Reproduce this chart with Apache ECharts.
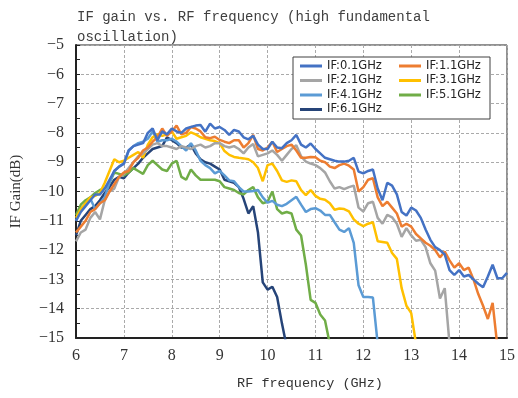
<!DOCTYPE html>
<html>
<head>
<meta charset="utf-8">
<script src="https://cdn.jsdelivr.net/npm/echarts@6/dist/echarts.min.js"></script>
<style>
  html, body { margin: 0; padding: 0; background: #fff; }
  #main { width: 518px; height: 398px; }
</style>
</head>
<body>
<div id="main"></div>
<script>
// RF frequency grid (GHz)
var freq = [6.0,6.1,6.2,6.3,6.4,6.5,6.6,6.7,6.8,6.9,
  7.0,7.1,7.2,7.3,7.4,7.5,7.6,7.7,7.8,7.9,
  8.0,8.1,8.2,8.3,8.4,8.5,8.6,8.7,8.8,8.9,
  9.0,9.1,9.2,9.3,9.4,9.5,9.6,9.7,9.8,9.9,
  10.0,10.1,10.2,10.3,10.4,10.5,10.6,10.7,10.8,10.9,
  11.0,11.1,11.2,11.3,11.4,11.5,11.6,11.7,11.8,11.9,
  12.0,12.1,12.2,12.3,12.4,12.5,12.6,12.7,12.8,12.9,
  13.0,13.1,13.2,13.3,13.4,13.5,13.6,13.7,13.8,13.9,
  14.0,14.1,14.2,14.3,14.4,14.5,14.6,14.7,14.8,14.9,15.0];

var names = ['IF:0.1GHz', 'IF:1.1GHz', 'IF:2.1GHz', 'IF:3.1GHz', 'IF:4.1GHz', 'IF:5.1GHz', 'IF:6.1GHz'];
var colors = ['#4472C4', '#ED7D31', '#A5A5A5', '#FFC000', '#5B9BD5', '#70AD47', '#264478'];

var if01 = [-11.0,-10.7,-10.5,-10.3,-10.1,-10.1,-9.9,-9.6,-9.3,-9.15,
  -9.05,-8.6,-8.45,-8.4,-8.35,-8.0,-7.85,-8.25,-7.95,-8.05,
  -7.85,-7.95,-8.0,-7.85,-7.8,-7.75,-7.73,-7.96,-7.68,-7.85,
  -7.8,-7.9,-8.07,-7.9,-7.95,-8.15,-8.22,-8.1,-8.4,-8.55,
  -8.55,-8.3,-8.5,-8.52,-8.35,-8.25,-8.07,-8.4,-8.5,-8.36,
  -8.55,-8.7,-8.85,-8.9,-8.95,-8.98,-8.98,-8.95,-8.85,-9.32,
  -9.38,-9.3,-9.25,-9.9,-10.3,-9.7,-9.8,-10.1,-10.7,-10.82,
  -10.55,-10.65,-10.9,-11.3,-11.65,-11.9,-12.0,-12.15,-12.68,-12.85,
  -12.68,-12.9,-12.85,-13.0,-13.15,-13.27,-12.9,-12.5,-12.96,-12.96,-12.78];

var if11 = [-11.4,-11.2,-11.0,-10.7,-10.6,-10.4,-10.3,-10.0,-9.75,-9.5,
  -9.35,-9.3,-9.0,-8.85,-8.6,-8.5,-8.3,-8.15,-7.85,-8.1,
  -7.95,-7.75,-8.05,-8.0,-7.8,-7.85,-7.95,-8.15,-8.18,-8.13,
  -8.24,-8.3,-8.35,-8.25,-8.25,-8.5,-8.35,-8.07,-8.55,-8.6,
  -8.5,-8.3,-8.65,-8.55,-8.45,-8.4,-8.6,-8.85,-8.85,-8.82,
  -8.83,-8.95,-9.0,-9.15,-9.2,-9.1,-9.05,-9.12,-9.25,-10.0,
  -9.85,-9.6,-9.55,-10.2,-10.5,-10.35,-10.55,-10.75,-11.2,-11.1,
  -11.2,-11.45,-11.6,-11.75,-11.85,-12.0,-12.25,-12.05,-12.35,-12.6,
  -12.45,-12.68,-12.6,-13.0,-13.5,-13.9,-14.35,-13.8,-15.3];

var if21 = [-11.7,-11.4,-11.3,-10.9,-10.7,-10.95,-10.3,-10.0,-9.9,-9.5,
  -9.4,-9.2,-9.0,-8.8,-8.7,-8.55,-8.4,-8.35,-8.45,-8.45,
  -8.5,-8.55,-8.45,-8.5,-8.55,-8.45,-8.4,-8.5,-8.45,-8.35,
  -8.35,-8.45,-8.5,-8.45,-8.55,-8.7,-8.5,-8.38,-8.8,-8.75,
  -8.7,-8.6,-8.75,-8.95,-8.75,-8.55,-8.42,-8.8,-8.98,-9.05,
  -9.1,-9.2,-9.35,-9.65,-9.9,-9.85,-9.92,-9.85,-9.8,-10.55,
  -10.68,-10.4,-10.35,-10.9,-11.1,-10.8,-10.88,-11.1,-11.55,-11.25,
  -11.5,-11.68,-11.65,-11.9,-12.45,-12.7,-13.65,-13.3,-15.2];

var if31 = [-10.9,-10.6,-10.4,-10.2,-10.15,-10.05,-9.7,-9.3,-8.9,-9.0,
  -8.95,-8.85,-8.75,-8.65,-8.85,-8.4,-8.15,-8.05,-8.1,-8.05,
  -7.95,-8.2,-8.15,-8.1,-7.98,-8.05,-8.15,-8.2,-8.25,-8.28,
  -8.35,-8.62,-8.75,-8.82,-8.85,-8.87,-8.9,-9.0,-9.2,-9.65,
  -9.1,-9.05,-9.3,-9.62,-9.67,-9.62,-9.65,-9.95,-10.12,-9.95,
  -10.15,-10.25,-10.28,-10.4,-10.62,-10.58,-10.6,-10.68,-10.95,-11.1,
  -11.18,-11.1,-11.05,-11.7,-11.72,-11.75,-12.1,-12.3,-13.3,-13.9,
  -14.15,-15.2];

var if41 = [-11.0,-10.6,-10.45,-10.25,-10.6,-10.4,-10.2,-9.7,-9.3,-9.15,
  -9.05,-8.6,-8.45,-8.35,-8.3,-8.2,-7.95,-8.3,-8.25,-8.25,
  -8.2,-8.3,-8.45,-8.6,-8.35,-8.6,-8.95,-9.1,-9.2,-9.38,
  -9.3,-9.45,-9.62,-9.65,-9.85,-10.0,-10.0,-9.98,-9.95,-10.2,
  -10.38,-10.32,-10.45,-10.5,-10.42,-10.3,-10.18,-10.45,-10.7,-10.6,
  -10.57,-10.65,-10.8,-10.8,-11.05,-11.3,-11.38,-11.25,-11.75,-13.2,
  -13.6,-13.6,-13.62,-15.2];

var if51 = [-10.8,-10.45,-10.3,-10.2,-10.05,-9.95,-9.9,-9.7,-9.35,-9.4,
  -9.45,-9.35,-9.2,-9.3,-9.4,-9.1,-8.95,-9.1,-9.25,-9.3,
  -9.05,-8.95,-9.5,-9.6,-9.25,-9.45,-9.6,-9.6,-9.6,-9.6,
  -9.65,-9.85,-9.9,-9.95,-10.05,-10.1,-9.95,-9.85,-10.2,-10.4,
  -10.35,-10.0,-10.6,-10.75,-10.7,-10.75,-11.3,-11.5,-12.5,-13.7,
  -13.8,-14.2,-14.4,-15.2];

var if61 = [-11.5,-11.0,-10.8,-10.6,-10.5,-10.3,-10.05,-9.85,-9.6,-9.5,
  -9.55,-9.35,-9.2,-9.05,-8.85,-8.7,-8.55,-8.5,-8.45,-8.15,
  -8.25,-8.35,-8.5,-8.5,-8.4,-8.7,-8.9,-9.0,-9.05,-9.15,
  -9.25,-9.6,-9.65,-9.7,-9.85,-10.25,-10.75,-10.5,-11.4,-13.1,
  -13.35,-13.25,-13.6,-14.5,-15.3];

var yTicks = [-15, -14, -13, -12, -11, -10, -9, -8, -7, -6, -5];
var xTicks = [6, 7, 8, 9, 10, 11, 12, 13, 14, 15];

var seriesValues = [if01, if11, if21, if31, if41, if51, if61];

var chart = echarts.init(document.getElementById('main'), null, { renderer: 'canvas' });

var series = seriesValues.map(function (vals, i) {
  return {
    name: names[i],
    type: 'line',
    showSymbol: false,
    symbol: 'none',
    clip: true,
    z: 10 - i,
    lineStyle: { color: colors[i], width: 2.5 },
    itemStyle: { color: colors[i] },
    data: vals.map(function (v, k) { return [freq[k], v]; })
  };
});

var legendText = { fontFamily: 'DejaVu Sans', fontSize: 11.5, color: '#222', lineHeight: 14, width: 60 };

var option = {
  animation: false,
  backgroundColor: '#fff',
  title: {
    text: 'IF gain vs. RF frequency (high fundamental\noscillation)',
    left: 72,
    top: 2,
    textStyle: { fontFamily: 'Liberation Mono', fontSize: 14, fontWeight: 'normal', color: '#404040', lineHeight: 20 }
  },
  legend: [{
    data: [names[0], names[2], names[4], names[6]],
    orient: 'vertical',
    left: 293,
    top: 57,
    itemGap: 0.5,
    itemWidth: 22,
    itemHeight: 3,
    icon: 'rect',
    padding: [2, 103, 2.5, 7],
    borderColor: '#404040',
    borderWidth: 1,
    backgroundColor: '#fff',
    textStyle: legendText
  }, {
    data: [names[1], names[3], names[5]],
    orient: 'vertical',
    left: 399,
    top: 59,
    itemGap: 0.5,
    itemWidth: 22,
    itemHeight: 3,
    icon: 'rect',
    padding: 0,
    textStyle: legendText
  }],
  grid: { left: 76, right: 7, top: 45, bottom: 60, show: true, borderColor: '#222', borderWidth: 1, backgroundColor: 'transparent' },
  xAxis: {
    type: 'value',
    min: xTicks[0],
    max: xTicks[xTicks.length - 1],
    interval: 1,
    name: 'RF frequency (GHz)',
    nameLocation: 'middle',
    nameGap: 38,
    nameTextStyle: { fontFamily: 'Liberation Mono', fontSize: 13.5, color: '#333', padding: [0, 0, 0, 37] },
    axisLine: { onZero: false, lineStyle: { color: '#222', width: 2 } },
    axisTick: { show: false },
    axisLabel: { fontFamily: 'Liberation Serif', fontSize: 16, color: '#333', margin: 10 },
    splitLine: { show: true, lineStyle: { color: '#aaa', type: [3, 2], width: 1 } }
  },
  yAxis: {
    type: 'value',
    min: yTicks[0],
    max: yTicks[yTicks.length - 1],
    interval: 1,
    name: 'IF Gain(dB)',
    nameLocation: 'middle',
    nameGap: 52,
    nameTextStyle: { fontFamily: 'Liberation Serif', fontSize: 15, color: '#333' },
    axisLine: { onZero: false, lineStyle: { color: '#222', width: 2 } },
    axisTick: { show: true, inside: true, length: 4, lineStyle: { color: '#222' } },
    minorTick: { show: true, splitNumber: 2, length: 4, lineStyle: { color: '#222' } },
    axisLabel: {
      fontFamily: 'Liberation Serif', fontSize: 16, color: '#333', margin: 12,
      formatter: function (v) { return String(v).replace('-', '\u2212'); }
    },
    splitLine: { show: true, lineStyle: { color: '#aaa', type: [3, 2], width: 1 } }
  },
  series: series
};

chart.setOption(option);
</script>
</body>
</html>
